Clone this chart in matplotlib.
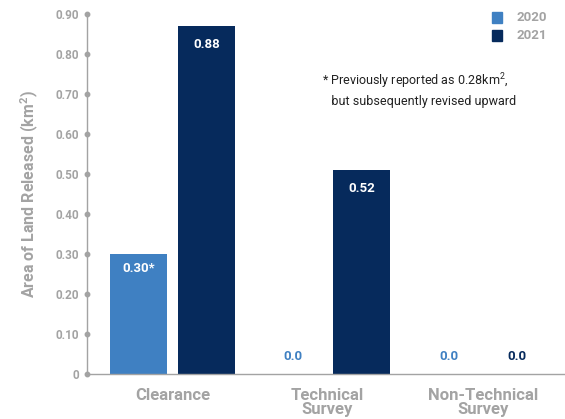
import matplotlib
matplotlib.use("Agg")
import matplotlib.pyplot as plt
import matplotlib.transforms as mtransforms
from matplotlib.patches import Rectangle
import numpy as np

categories = ["Clearance", "Technical\nSurvey", "Non-Technical\nSurvey"]
series_names = ["2020", "2021"]
values_2020 = [0.30, 0.0, 0.0]
values_2021 = [0.87, 0.51, 0.0]
labels_2020 = ["0.30*", "0.0", "0.0"]
labels_2021 = ["0.88", "0.52", "0.0"]
yticks = [0, 0.1, 0.2, 0.3, 0.4, 0.5, 0.6, 0.7, 0.8, 0.9]
ytick_labels = ["0", "0.10", "0.20", "0.30", "0.40", "0.50", "0.60", "0.70", "0.80", "0.90"]

c2020 = "#3F80C2"
c2021 = "#062A5C"
gray = "#A3A3A3"
plt.rcParams['font.family'] = ['Roboto', 'DejaVu Sans']

fig = plt.figure(figsize=(5.65, 4.19), dpi=100)
ax = fig.add_axes([87/565, 45/419, 1 - 87/565, 360/419])

x = np.arange(len(categories))
w = 0.368
off = 0.22
ax.bar(x - off, values_2020, w, color=c2020, zorder=2)
ax.bar(x + off, values_2021, w, color=c2021, zorder=2)

ax.set_xlim(-0.55, 2.53)
ax.set_ylim(0, 0.90)

for spine in ["top", "right"]:
    ax.spines[spine].set_visible(False)
ax.spines["left"].set_color(gray)
ax.spines["bottom"].set_color(gray)
ax.spines["left"].set_linewidth(1.0)
ax.spines["bottom"].set_linewidth(1.0)

ax.set_yticks(yticks)
ax.set_yticklabels(ytick_labels)
ax.tick_params(axis="y", length=0, pad=6, labelsize=8.5, labelcolor=gray)
for t in ax.get_yticklabels():
    t.set_fontweight("bold")
trans = mtransforms.blended_transform_factory(ax.transAxes, ax.transData)
ax.plot([0]*len(yticks), yticks, 'o', ms=3.2, color=gray, transform=trans, clip_on=False, zorder=3)

ax.set_xticks(x)
ax.set_xticklabels(categories, fontsize=12, fontweight="bold", color=gray, linespacing=0.9)
ax.tick_params(axis="x", length=0, pad=10)

ax.set_ylabel("Area of Land Released (km$^\\mathregular{2}$)", fontsize=11.5, fontweight="bold",
              color=gray)
ax.yaxis.set_label_coords(-0.096, 0.5)

for xi, v, lab in zip(x - off, values_2020, labels_2020):
    if v > 0.05:
        ax.text(xi, v - 0.035, lab, ha="center", va="center", color="white", fontsize=9.5, fontweight="bold")
    else:
        ax.text(xi, 0.045, lab, ha="center", va="center", color=c2020, fontsize=9.5, fontweight="bold")
for xi, v, lab in zip(x + off, values_2021, labels_2021):
    if v > 0.05:
        ax.text(xi, v - 0.047, lab, ha="center", va="center", color="white", fontsize=9.5, fontweight="bold")
    else:
        ax.text(xi, 0.045, lab, ha="center", va="center", color=c2021, fontsize=9.5, fontweight="bold")

for i, (name, col) in enumerate(zip(series_names, [c2020, c2021])):
    yy = 0.989 - i * 0.05
    ax.add_patch(Rectangle((0.847, yy - 0.014), 0.022, 0.03, transform=ax.transAxes,
                           color=col, clip_on=False))
    ax.text(0.899, yy, name, transform=ax.transAxes, ha="left", va="center",
            fontsize=9.5, fontweight="bold", color=gray)

ax.text(0.491, 0.79, "* Previously reported as 0.28km$^\\mathregular{2}$,\n   but subsequently revised upward",
        transform=ax.transAxes, ha="left", va="center", fontsize=9, color="#222222", linespacing=1.35)

fig.savefig("out.png", dpi=100)
